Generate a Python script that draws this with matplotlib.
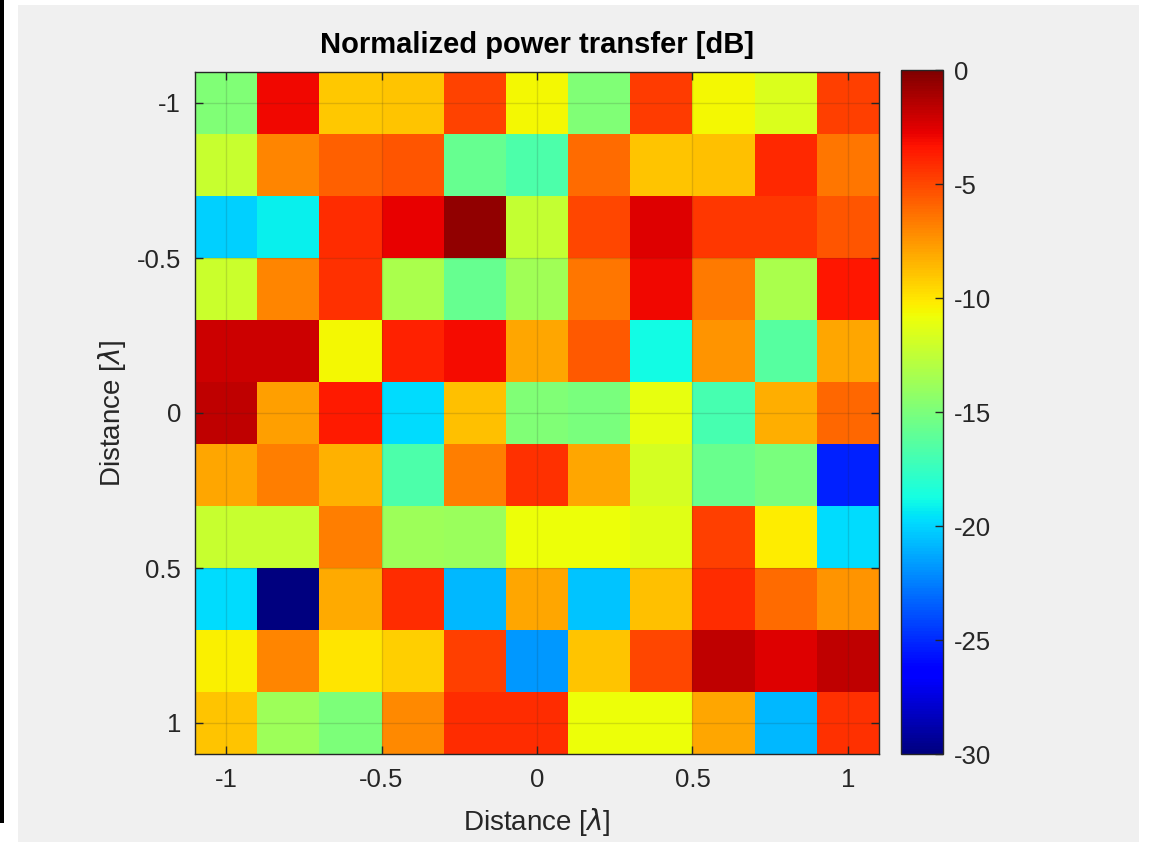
import matplotlib
matplotlib.use("Agg")
import matplotlib.pyplot as plt
import numpy as np
from matplotlib.patches import Rectangle

# Grid coordinates (in wavelengths)
x_pos = [-1.0, -0.8, -0.6, -0.4, -0.2, 0.0, 0.2, 0.4, 0.6, 0.8, 1.0]
y_pos = [-1.0, -0.8, -0.6, -0.4, -0.2, 0.0, 0.2, 0.4, 0.6, 0.8, 1.0]

# Normalized power transfer [dB], one list per row (top row y=-1 to bottom row y=1)
row_m10 = [-14.8, -3.0, -9.1, -9.0, -4.9, -10.6, -14.8, -4.6, -10.6, -11.5, -4.7]
row_m08 = [-12.3, -7.0, -5.8, -5.5, -15.8, -16.7, -6.2, -9.0, -8.8, -4.0, -6.5]
row_m06 = [-20.1, -19.2, -4.2, -2.8, -0.5, -12.4, -5.0, -2.5, -4.5, -4.5, -5.5]
row_m04 = [-12.1, -7.0, -4.3, -13.3, -15.8, -13.6, -6.5, -3.0, -6.6, -13.3, -3.4]
row_m02 = [-2.0, -2.0, -10.6, -3.8, -3.1, -8.0, -5.6, -18.8, -7.5, -16.4, -8.0]
row_p00 = [-1.65, -7.8, -3.6, -19.8, -8.8, -14.8, -15.1, -11.1, -16.9, -8.3, -6.0]
row_p02 = [-8.0, -6.7, -8.4, -16.7, -6.7, -4.3, -8.0, -11.8, -15.7, -15.1, -25.2]
row_p04 = [-12.3, -12.3, -6.7, -13.8, -13.9, -10.8, -10.8, -11.3, -4.7, -10.2, -19.8]
row_p06 = [-19.8, -30.0, -8.1, -4.2, -20.8, -8.0, -20.5, -8.8, -4.2, -6.2, -7.5]
row_p08 = [-10.4, -7.0, -10.0, -9.3, -4.7, -21.7, -9.0, -5.0, -1.7, -2.5, -1.7]
row_p10 = [-9.0, -13.8, -15.0, -7.1, -4.2, -4.2, -10.8, -10.8, -8.0, -20.8, -4.3]

ticks = [-1, -0.5, 0, 0.5, 1]
tick_labels = ["-1", "-0.5", "0", "0.5", "1"]
cbar_ticks = [0, -5, -10, -15, -20, -25, -30]
title = "Normalized power transfer [dB]"
xlabel = r"Distance [$\lambda$]"
ylabel = r"Distance [$\lambda$]"

Z = np.array([row_m10, row_m08, row_m06, row_m04, row_m02, row_p00,
              row_p02, row_p04, row_p06, row_p08, row_p10])

plt.rcParams['font.family'] = ['Liberation Sans', 'DejaVu Sans']
plt.rcParams['mathtext.fontset'] = 'custom'
plt.rcParams['mathtext.it'] = 'DejaVu Sans:italic'

W, H = 1150, 842
fig = plt.figure(figsize=(W / 100, H / 100), dpi=100, facecolor='white')

# window background (screenshot frame)
fig.patches.append(Rectangle((18 / W, 0), (1139 - 18) / W, (H - 5) / H,
                             transform=fig.transFigure, facecolor='#f0f0f0',
                             edgecolor='none', zorder=-10))
fig.patches.append(Rectangle((0, (H - 823) / H), 4 / W, 823 / H,
                             transform=fig.transFigure, facecolor='black',
                             edgecolor='none', zorder=-10))

tc = '#262626'
ax = fig.add_axes([195 / W, (H - 754) / H, (879 - 195) / W, (754 - 72) / H])
dx = (x_pos[1] - x_pos[0]) / 2
dy = (y_pos[1] - y_pos[0]) / 2
cmap = plt.get_cmap('jet')
im = ax.imshow(Z, cmap=cmap, vmin=-30, vmax=0, interpolation='nearest',
               extent=(x_pos[0] - dx, x_pos[-1] + dx, y_pos[-1] + dy, y_pos[0] - dy),
               aspect='auto')
ax.set_xlim(x_pos[0] - dx, x_pos[-1] + dx)
ax.set_ylim(y_pos[-1] + dy, y_pos[0] - dy)
ax.set_xticks(ticks)
ax.set_xticklabels(tick_labels)
ax.set_yticks(ticks)
ax.set_yticklabels(tick_labels)
ax.tick_params(direction='in', top=True, right=True, length=6, width=1,
               colors=tc, labelsize=18.5, pad=10)
ax.grid(True, color='#262626', alpha=0.15, linewidth=1)
ax.set_axisbelow(False)
for s in ax.spines.values():
    s.set_color(tc)
    s.set_linewidth(1)
ax.set_xlabel(xlabel, fontsize=20, color=tc, labelpad=10)
ax.set_ylabel(ylabel, fontsize=20, color=tc, labelpad=6)
ax.set_title(title, fontsize=21, fontweight='bold', color='black', pad=14)

cax = fig.add_axes([901 / W, (H - 754) / H, (943 - 901) / W, (754 - 70) / H])
cb = fig.colorbar(im, cax=cax, ticks=cbar_ticks)
cb.ax.tick_params(direction='in', length=6, width=1, colors=tc, labelsize=18.5, pad=8,
                  left=False, right=True)
cb.outline.set_edgecolor(tc)
cb.outline.set_linewidth(1)
cb.ax.set_yticklabels([str(t) for t in cbar_ticks])

fig.savefig("out.png", dpi=100, facecolor=fig.get_facecolor())
